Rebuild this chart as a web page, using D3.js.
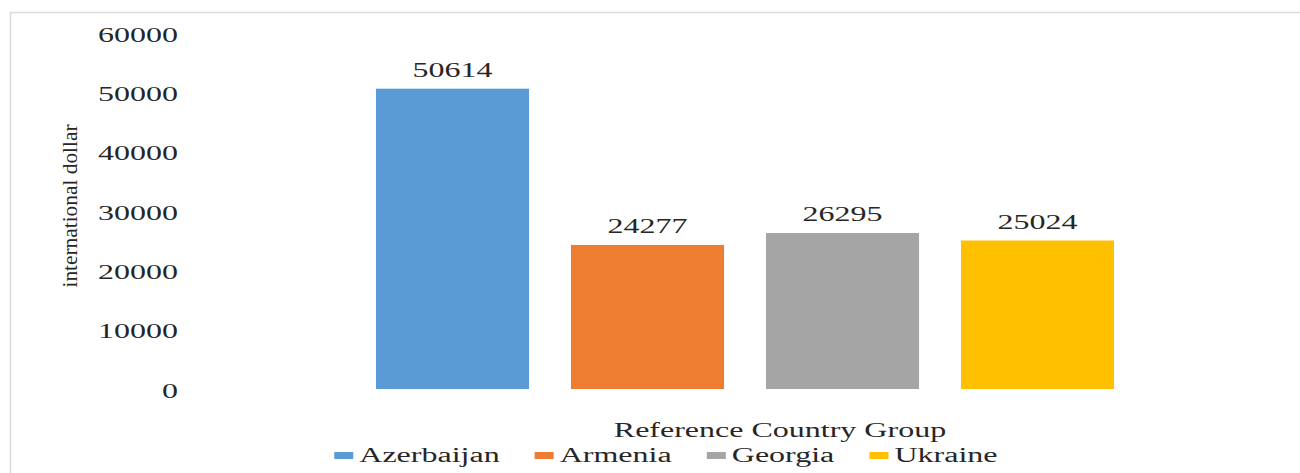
<!DOCTYPE html>
<html>
<head>
<meta charset="utf-8">
<script src="https://cdn.jsdelivr.net/npm/d3@7"></script>
<style>
  body { margin: 0; background: #fff; }
  text { font-family: "Liberation Serif", "Times New Roman", serif; fill: #262626; }
</style>
</head>
<body>
<div id="chart"></div>
<script>
// data
var countries = ["Azerbaijan", "Armenia", "Georgia", "Ukraine"];
var values = [50614, 24277, 26295, 25024];
var colors = ["#5B9BD5", "#ED7D31", "#A5A5A5", "#FFC000"];
var yTicks = [0, 10000, 20000, 30000, 40000, 50000, 60000];
var yTitle = "international dollar";
var xTitle = "Reference Country Group";

var width = 1300, height = 473;
var stretchK = 1.6; // the picture's text is wide, stretch it horizontally

var svg = d3.select("#chart").append("svg")
    .attr("width", width)
    .attr("height", height);

// frame
svg.append("path")
    .attr("d", "M10.5,473 L10.5,12.5 L1300,12.5")
    .attr("fill", "none")
    .attr("stroke", "#d9d9d9")
    .attr("stroke-width", 1.5);

// scales
var x = d3.scaleBand()
    .domain(countries)
    .range([355, 1135])
    .paddingInner(0.215)
    .paddingOuter(0.1075);

var y = d3.scaleLinear()
    .domain([0, 60000])
    .range([389, 33]);

// stretch helper: widen text by k using textLength
function stretch(sel, k) {
    sel.each(function () {
        var w = this.getComputedTextLength();
        d3.select(this)
            .attr("textLength", w * k)
            .attr("lengthAdjust", "spacingAndGlyphs");
    });
}

// y axis (labels only)
var yAxis = svg.append("g")
    .attr("transform", "translate(187,0)")
    .call(d3.axisLeft(y).tickValues(yTicks).tickSize(0).tickPadding(9).tickFormat(d3.format("d")));
yAxis.select(".domain").remove();
yAxis.selectAll("text")
    .style("font-family", "'Liberation Serif', serif")
    .style("font-size", "20px")
    .attr("fill", "#262626")
    .attr("dy", "0.4em")
    .call(stretch, stretchK);

// y title (narrow, tall glyphs in the picture)
svg.append("text")
    .attr("transform", "translate(77,206) rotate(-90)")
    .attr("text-anchor", "middle")
    .style("font-size", "22px")
    .text(yTitle)
    .attr("textLength", 163)
    .attr("lengthAdjust", "spacingAndGlyphs");

// bars
svg.selectAll("rect.bar")
    .data(values)
    .enter()
    .append("rect")
    .attr("class", "bar")
    .attr("x", function (d, i) { return x(countries[i]); })
    .attr("y", function (d) { return y(d); })
    .attr("width", x.bandwidth())
    .attr("height", function (d) { return y(0) - y(d); })
    .attr("fill", function (d, i) { return colors[i]; });

// value labels
svg.selectAll("text.val")
    .data(values)
    .enter()
    .append("text")
    .attr("class", "val")
    .attr("x", function (d, i) { return x(countries[i]) + x.bandwidth() / 2; })
    .attr("y", function (d) { return y(d) - 12; })
    .attr("text-anchor", "middle")
    .style("font-size", "20px")
    .text(function (d) { return d; })
    .call(stretch, stretchK);

// x title
svg.append("text")
    .attr("x", 780)
    .attr("y", 437)
    .attr("text-anchor", "middle")
    .style("font-size", "20px")
    .text(xTitle)
    .call(stretch, stretchK);

// legend
var legend = svg.append("g");
var items = legend.selectAll("g")
    .data(countries)
    .enter()
    .append("g");
items.append("rect")
    .attr("width", 19)
    .attr("height", 7)
    .attr("y", -10)
    .attr("fill", function (d, i) { return colors[i]; });
items.append("text")
    .attr("x", 25)
    .style("font-size", "20px")
    .text(function (d) { return d; })
    .call(stretch, stretchK);

// lay the legend items out in a row
var gap = 35, pos = 0, offs = [];
items.each(function () {
    offs.push(pos);
    pos += this.getBBox().width + gap;
});
var total = pos - gap;
var startX = 666 - total / 2;
items.attr("transform", function (d, i) { return "translate(" + (startX + offs[i]) + ",462)"; });
</script>
</body>
</html>
